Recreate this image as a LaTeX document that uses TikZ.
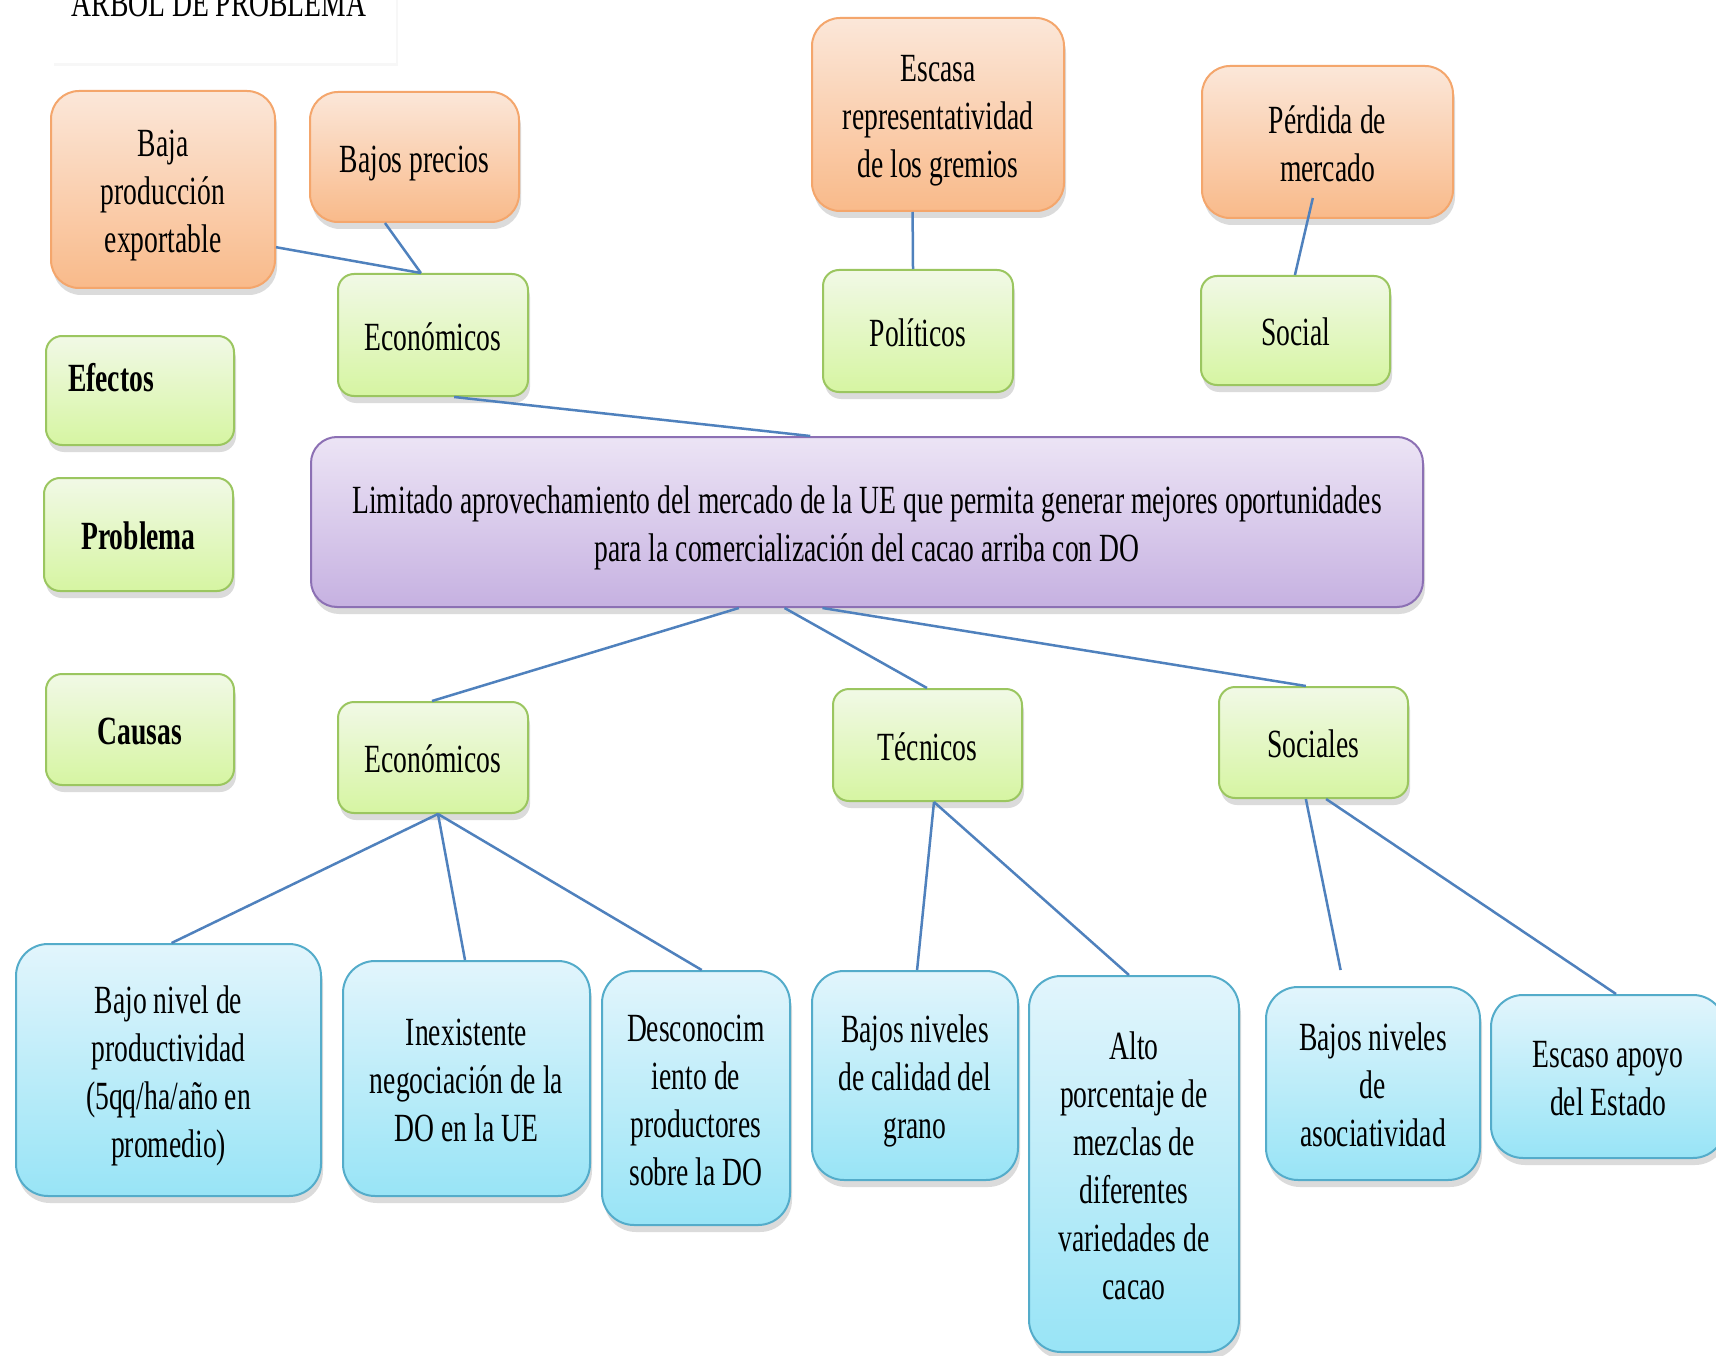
\documentclass[tikz,border=0pt]{standalone}
\usepackage{fontspec}
\setmainfont{Liberation Serif}[FakeStretch=0.69]
\usetikzlibrary{shadows,calc}
\definecolor{otop}{RGB}{251,231,217}
\definecolor{obot}{RGB}{249,186,138}
\definecolor{obord}{RGB}{244,166,108}
\definecolor{gtop}{RGB}{241,249,230}
\definecolor{gbot}{RGB}{214,245,162}
\definecolor{gbord}{RGB}{155,198,96}
\definecolor{ptop}{RGB}{236,228,245}
\definecolor{pbot}{RGB}{198,177,225}
\definecolor{pbord}{RGB}{140,112,180}
\definecolor{btop}{RGB}{226,245,252}
\definecolor{bbot}{RGB}{152,228,246}
\definecolor{bbord}{RGB}{84,172,202}
\definecolor{link}{RGB}{79,129,189}
\newcommand\tx[1]{\begin{tabular}{@{}c@{}}\rule{0pt}{45pt}#1\end{tabular}}
\tikzset{
  box/.style={draw, line width=2pt, inner sep=0pt,
    font=\fontsize{40}{48}\selectfont,
    drop shadow={shadow xshift=2pt, shadow yshift=-7pt, opacity=0.28}},
  orangebox/.style={box, rounded corners=28pt, top color=otop, bottom color=obot, draw=obord},
  greenbox/.style={box, rounded corners=16pt, top color=gtop, bottom color=gbot, draw=gbord},
  purplebox/.style={box, rounded corners=26pt, top color=ptop, bottom color=pbot, draw=pbord},
  bluebox/.style={box, rounded corners=32pt, top color=btop, bottom color=bbot, draw=bbord},
  conn/.style={draw=link, line width=2.5pt},
}
\begin{document}
\begin{tikzpicture}[x=1pt,y=-1pt]
\useasboundingbox (0,0) rectangle (1716,1356);
\clip (0,0) rectangle (1716,1356);
\fill[white] (0,0) rectangle (1716,1356);

% title
\node[fill=white, draw=none, minimum width=344pt, minimum height=90pt, inner sep=0pt,
  drop shadow={shadow xshift=2pt, shadow yshift=-3pt, opacity=0.06}] (titlebox) at (224,18) {};
\node[anchor=base, font=\fontsize{40}{48}\selectfont, inner sep=0pt] (title) at (219,17) {ARBOL DE PROBLEMA};

% effects
\node[orangebox, minimum width=224pt, minimum height=197pt] (baja) at (163,189.5) {\tx{Baja\\producción\\exportable}};
\node[orangebox, minimum width=209pt, minimum height=130pt] (precios) at (414.5,157) {\tx{Bajos precios}};
\node[orangebox, minimum width=252pt, minimum height=193pt] (escasa) at (938,114.5) {\tx{Escasa\\representatividad\\de los gremios}};
\node[orangebox, minimum width=251pt, minimum height=152pt] (perdida) at (1327.5,142) {\tx{Pérdida de\\mercado}};

\node[greenbox, minimum width=190pt, minimum height=122pt] (econE) at (433,335) {\tx{Económicos}};
\node[greenbox, minimum width=190pt, minimum height=122pt] (politicos) at (918,331) {\tx{Políticos}};
\node[greenbox, minimum width=189pt, minimum height=109pt] (social) at (1295.5,330.5) {\tx{Social}};

% legend
\node[greenbox, minimum width=188pt, minimum height=109pt, font=\fontsize{40}{48}\selectfont\bfseries] (efectos) at (140,390.5)
  {\begin{tabular}{@{}l@{}}\makebox[144pt][l]{Efectos}\rule[-31pt]{0pt}{0pt}\end{tabular}};
\node[greenbox, minimum width=189pt, minimum height=113pt, font=\fontsize{40}{48}\selectfont\bfseries] (problema) at (138.5,534.5) {\tx{Problema}};
\node[greenbox, minimum width=188pt, minimum height=111pt, font=\fontsize{40}{48}\selectfont\bfseries] (causas) at (140,729.5) {\tx{Causas}};

% problem
\node[purplebox, minimum width=1112pt, minimum height=170pt] (prob) at (867,522)
  {\tx{Limitado aprovechamiento del mercado de la UE que permita generar mejores oportunidades\\para la comercialización del cacao arriba con DO}};

% causes
\node[greenbox, minimum width=190pt, minimum height=111pt] (econC) at (433,757.5) {\tx{Económicos}};
\node[greenbox, minimum width=189pt, minimum height=112pt] (tecnicos) at (927.5,745) {\tx{Técnicos}};
\node[greenbox, minimum width=189pt, minimum height=111pt] (sociales) at (1313.5,742.5) {\tx{Sociales}};

\node[bluebox, minimum width=305pt, minimum height=252pt] (bajonivel) at (168.5,1070) {\tx{Bajo nivel de\\productividad\\(5qq/ha/año en\\promedio)}};
\node[bluebox, minimum width=247pt, minimum height=235pt] (inexist) at (466.5,1078.5) {\tx{Inexistente\\negociación de la\\DO en la UE}};
\node[bluebox, minimum width=188pt, minimum height=254pt] (descon) at (696,1098) {\tx{Desconocim\\iento de\\productores\\sobre la DO}};
\node[bluebox, minimum width=206pt, minimum height=209pt] (calidad) at (915,1075.5) {\tx{Bajos niveles\\de calidad del\\grano}};
\node[bluebox, minimum width=210pt, minimum height=376pt] (alto) at (1134,1164) {\tx{Alto\\porcentaje de\\mezclas de\\diferentes\\variedades de\\cacao}};
\node[bluebox, minimum width=214pt, minimum height=193pt] (asoc) at (1373,1083.5) {\tx{Bajos niveles\\de\\asociatividad}};
\node[bluebox, minimum width=234pt, minimum height=163pt] (apoyo) at (1608,1076.5) {\tx{Escaso apoyo\\del Estado}};

% connectors
\draw[conn] ($(baja.north east)!0.79!(baja.south east)$) -- ($(econE.north west)!0.437!(econE.north east)$);
\draw[conn] ($(precios.south west)!0.36!(precios.south east)$) -- ($(econE.north west)!0.437!(econE.north east)$);
\draw[conn] ($(escasa.south west)!0.40!(escasa.south east)$) -- ($(politicos.north west)!0.474!(politicos.north east)$);
\draw[conn] ($(perdida.south west)!0.442!(perdida.south east)+(0,-21)$) -- ($(social.north west)!0.497!(social.north east)$);
\draw[conn] ($(econE.south west)!0.61!(econE.south east)$) -- ($(prob.north west)!0.449!(prob.north east)$);
\draw[conn] ($(prob.south west)!0.385!(prob.south east)$) -- ($(econC.north west)!0.495!(econC.north east)$);
\draw[conn] ($(prob.south west)!0.426!(prob.south east)$) -- ($(tecnicos.north west)!0.497!(tecnicos.north east)$);
\draw[conn] ($(prob.south west)!0.46!(prob.south east)$) -- ($(sociales.north west)!0.46!(sociales.north east)$);
\draw[conn] ($(econC.south west)!0.526!(econC.south east)$) -- ($(bajonivel.north west)!0.51!(bajonivel.north east)$);
\draw[conn] ($(econC.south west)!0.526!(econC.south east)$) -- ($(inexist.north west)!0.494!(inexist.north east)$);
\draw[conn] ($(econC.south west)!0.526!(econC.south east)$) -- ($(descon.north west)!0.53!(descon.north east)$);
\draw[conn] ($(tecnicos.south west)!0.534!(tecnicos.south east)$) -- ($(calidad.north west)!0.51!(calidad.north east)$);
\draw[conn] ($(tecnicos.south west)!0.534!(tecnicos.south east)$) -- ($(alto.north west)!0.476!(alto.north east)$);
\draw[conn] ($(sociales.south west)!0.46!(sociales.south east)$) -- ($(asoc.north west)!0.35!(asoc.north east)+(0,-16)$);
\draw[conn] ($(sociales.south west)!0.566!(sociales.south east)$) -- ($(apoyo.north west)!0.534!(apoyo.north east)$);
\end{tikzpicture}
\end{document}
